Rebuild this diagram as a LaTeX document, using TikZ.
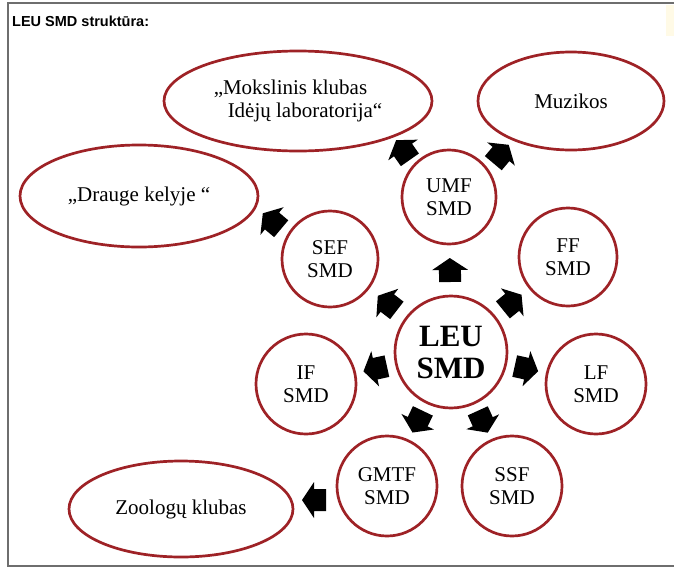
\documentclass[tikz,border=0pt]{standalone}
\usepackage{fontspec}
\setmainfont{Liberation Serif}
\newfontfamily\titlefont{Liberation Sans}
\usetikzlibrary{shapes.geometric}
\definecolor{ringred}{RGB}{158,34,38}
\definecolor{framegray}{RGB}{110,110,110}
\definecolor{paleyellow}{RGB}{255,250,230}
\begin{document}
\begin{tikzpicture}[x=1pt,y=-1pt,
  ringbase/.style={draw=ringred, line width=2.7pt, fill=white, inner sep=0pt,
    align=center, font=\fontsize{21}{23}\selectfont},
  circ/.style={ringbase, circle, minimum size=#1},
  ell/.style n args={2}{ringbase, ellipse, minimum width=#1, minimum height=#2},
  blockarrow/.pic={\fill[black] (-12,-11) -- (0,-11) -- (0,-18) -- (12,0) -- (0,18) -- (0,11) -- (-12,11) -- cycle;},
  outward/.style={sloped, allow upside down, pos=#1}
]
\useasboundingbox (0,0) rectangle (674,568);
\fill[paleyellow] (666,5) rectangle (674,36);
\draw[framegray, line width=1.4pt] (674,3) -- (8,3) -- (8,566) -- (674,566);

\node[anchor=base west, inner sep=0pt, font=\titlefont\bfseries\fontsize{14.5}{16}\selectfont] (title) at (12,26) {LEU SMD struktūra:};

% outer clubs
\node[ell={268pt}{100pt}, align=left] (mok) at (298,101) {„Mokslinis klubas\\\hspace*{14pt}Idėjų laboratorija“};
\node[ell={186pt}{98pt}] (muz) at (571,101) {Muzikos};
\node[ell={238pt}{102pt}] (dra) at (139,196) {„Drauge kelyje “};
\node[ell={224pt}{96pt}] (zoo) at (181,509) {Zoologų klubas};

% faculty circles
\node[circ=112pt, font=\bfseries\fontsize{31}{32}\selectfont] (leu) at (451,352) {LEU\\SMD};
\node[circ=94pt] (umf) at (449,197) {UMF\\SMD};
\node[circ=96pt] (sef) at (330,259) {SEF\\SMD};
\node[circ=98pt] (ff) at (568,257) {FF\\SMD};
\node[circ=100pt] (if) at (306,384) {IF\\SMD};
\node[circ=100pt] (lf) at (596,384) {LF\\SMD};
\node[circ=100pt, inner xsep=-8pt] (gmtf) at (387,486) {GMTF\\SMD};
\node[circ=100pt] (ssf) at (512,486) {SSF\\SMD};

% block arrows from the centre
\path (leu) -- (umf) pic[outward=0.5] {blockarrow};
\path (leu) -- (sef) pic[outward=0.5] {blockarrow};
\path (leu) -- (ff) pic[outward=0.5] {blockarrow};
\path (leu) -- (if) pic[outward=0.51] {blockarrow};
\path (leu) -- (lf) pic[outward=0.5] {blockarrow};
\path (leu) -- (gmtf) pic[outward=0.5] {blockarrow};
\path (leu) -- (ssf) pic[outward=0.5] {blockarrow};

% block arrows to clubs
\path (403,150) pic[rotate=125] {blockarrow};
\path (501,154) pic[rotate=50] {blockarrow};
\path (272,221) pic[rotate=140] {blockarrow};
\path (314,500) pic[rotate=180] {blockarrow};
\end{tikzpicture}
\end{document}
